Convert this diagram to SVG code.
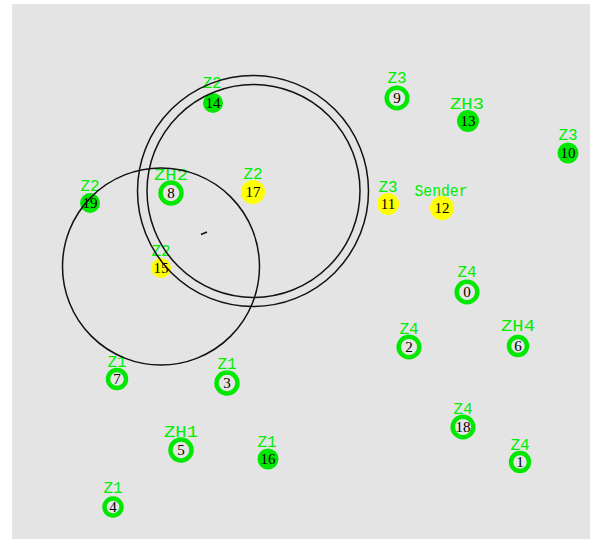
<svg xmlns="http://www.w3.org/2000/svg" width="594" height="539" viewBox="0 0 594 539">
<style>
.ring{fill:#e6e6e6;stroke:#00e800;stroke-width:4.5}
.solid{fill:#00e800}
.yel{fill:#ffff00}
.lbl{font-family:"Liberation Mono",monospace;font-size:16px;fill:#00ee00;text-anchor:middle}
.num{font-family:"Liberation Serif",serif;font-size:15px;fill:#000;text-anchor:middle}
.rng{fill:none;stroke:#111;stroke-width:1.5}
</style>
<rect x="0" y="0" width="594" height="539" fill="#fff"/>
<rect x="12" y="4" width="578" height="535" fill="#e4e4e4"/>
<g id="node0"><circle class="ring" cx="467" cy="292" r="10.3"/><text class="lbl" x="467" y="277">Z4</text><text class="num" x="467" y="297">0</text></g>
<g id="node1"><circle class="ring" cx="520" cy="462" r="9"/><text class="lbl" x="520" y="450">Z4</text><text class="num" x="520" y="467">1</text></g>
<g id="node2"><circle class="ring" cx="409" cy="347" r="10.3"/><text class="lbl" x="409" y="334">Z4</text><text class="num" x="409" y="352">2</text></g>
<g id="node3"><circle class="ring" cx="227" cy="383" r="10.5"/><text class="lbl" x="227" y="369">Z1</text><text class="num" x="227" y="388">3</text></g>
<g id="node4"><circle class="ring" cx="113" cy="507" r="8.5"/><text class="lbl" x="113" y="493">Z1</text><text class="num" x="113" y="512">4</text></g>
<g id="node5"><circle class="ring" cx="181" cy="450" r="10.5"/><text class="lbl" x="181" y="437" textLength="34" lengthAdjust="spacingAndGlyphs">ZH1</text><text class="num" x="181" y="455">5</text></g>
<g id="node6"><circle class="ring" cx="518" cy="346" r="9"/><text class="lbl" x="518" y="331" textLength="34" lengthAdjust="spacingAndGlyphs">ZH4</text><text class="num" x="518" y="351">6</text></g>
<g id="node7"><circle class="ring" cx="117" cy="379" r="9"/><text class="lbl" x="117" y="367">Z1</text><text class="num" x="117" y="384">7</text></g>
<g id="node8"><circle class="ring" cx="171" cy="193" r="10.5"/><text class="lbl" x="171" y="180" textLength="34" lengthAdjust="spacingAndGlyphs">ZH2</text><text class="num" x="171" y="198">8</text></g>
<g id="node9"><circle class="ring" cx="397" cy="98" r="10.3"/><text class="lbl" x="397" y="83">Z3</text><text class="num" x="397" y="103">9</text></g>
<g id="node10"><circle class="solid" cx="568" cy="153" r="10.5"/><text class="lbl" x="568" y="140">Z3</text><text class="num" x="568" y="158">10</text></g>
<g id="node11"><circle class="yel" cx="388" cy="204" r="11"/><text class="lbl" x="388" y="192">Z3</text><text class="num" x="388" y="209">11</text></g>
<g id="node12"><circle class="yel" cx="442" cy="208" r="12"/><text class="lbl" x="441" y="196" textLength="53" lengthAdjust="spacingAndGlyphs">Sender</text><text class="num" x="442" y="213">12</text></g>
<g id="node13"><circle class="solid" cx="468" cy="121" r="11"/><text class="lbl" x="467" y="109" textLength="34" lengthAdjust="spacingAndGlyphs">ZH3</text><text class="num" x="468" y="126">13</text></g>
<g id="node14"><circle class="solid" cx="213" cy="103" r="10"/><text class="lbl" x="212" y="88">Z2</text><text class="num" x="213" y="108">14</text></g>
<g id="node15"><circle class="yel" cx="161" cy="268" r="10"/><text class="lbl" x="161" y="256">Z2</text><text class="num" x="161" y="273">15</text></g>
<g id="node16"><circle class="solid" cx="268" cy="459" r="10.5"/><text class="lbl" x="267" y="447">Z1</text><text class="num" x="268" y="464">16</text></g>
<g id="node17"><circle class="yel" cx="253" cy="192" r="12"/><text class="lbl" x="253" y="179">Z2</text><text class="num" x="253" y="197">17</text></g>
<g id="node18"><circle class="ring" cx="463" cy="427" r="10.3"/><text class="lbl" x="463" y="414">Z4</text><text class="num" x="463" y="432">18</text></g>
<g id="node19"><circle class="solid" cx="90" cy="203" r="10"/><text class="lbl" x="90" y="191">Z2</text><text class="num" x="90" y="208">19</text></g>
<g id="ranges">
<circle class="rng" cx="253" cy="191" r="115.5"/>
<circle class="rng" cx="253.5" cy="191" r="106.5"/>
<circle class="rng" cx="161" cy="266.5" r="98.5"/>
<line x1="201" y1="234.5" x2="207" y2="232" stroke="#111" stroke-width="1.5"/>
</g>
</svg>
